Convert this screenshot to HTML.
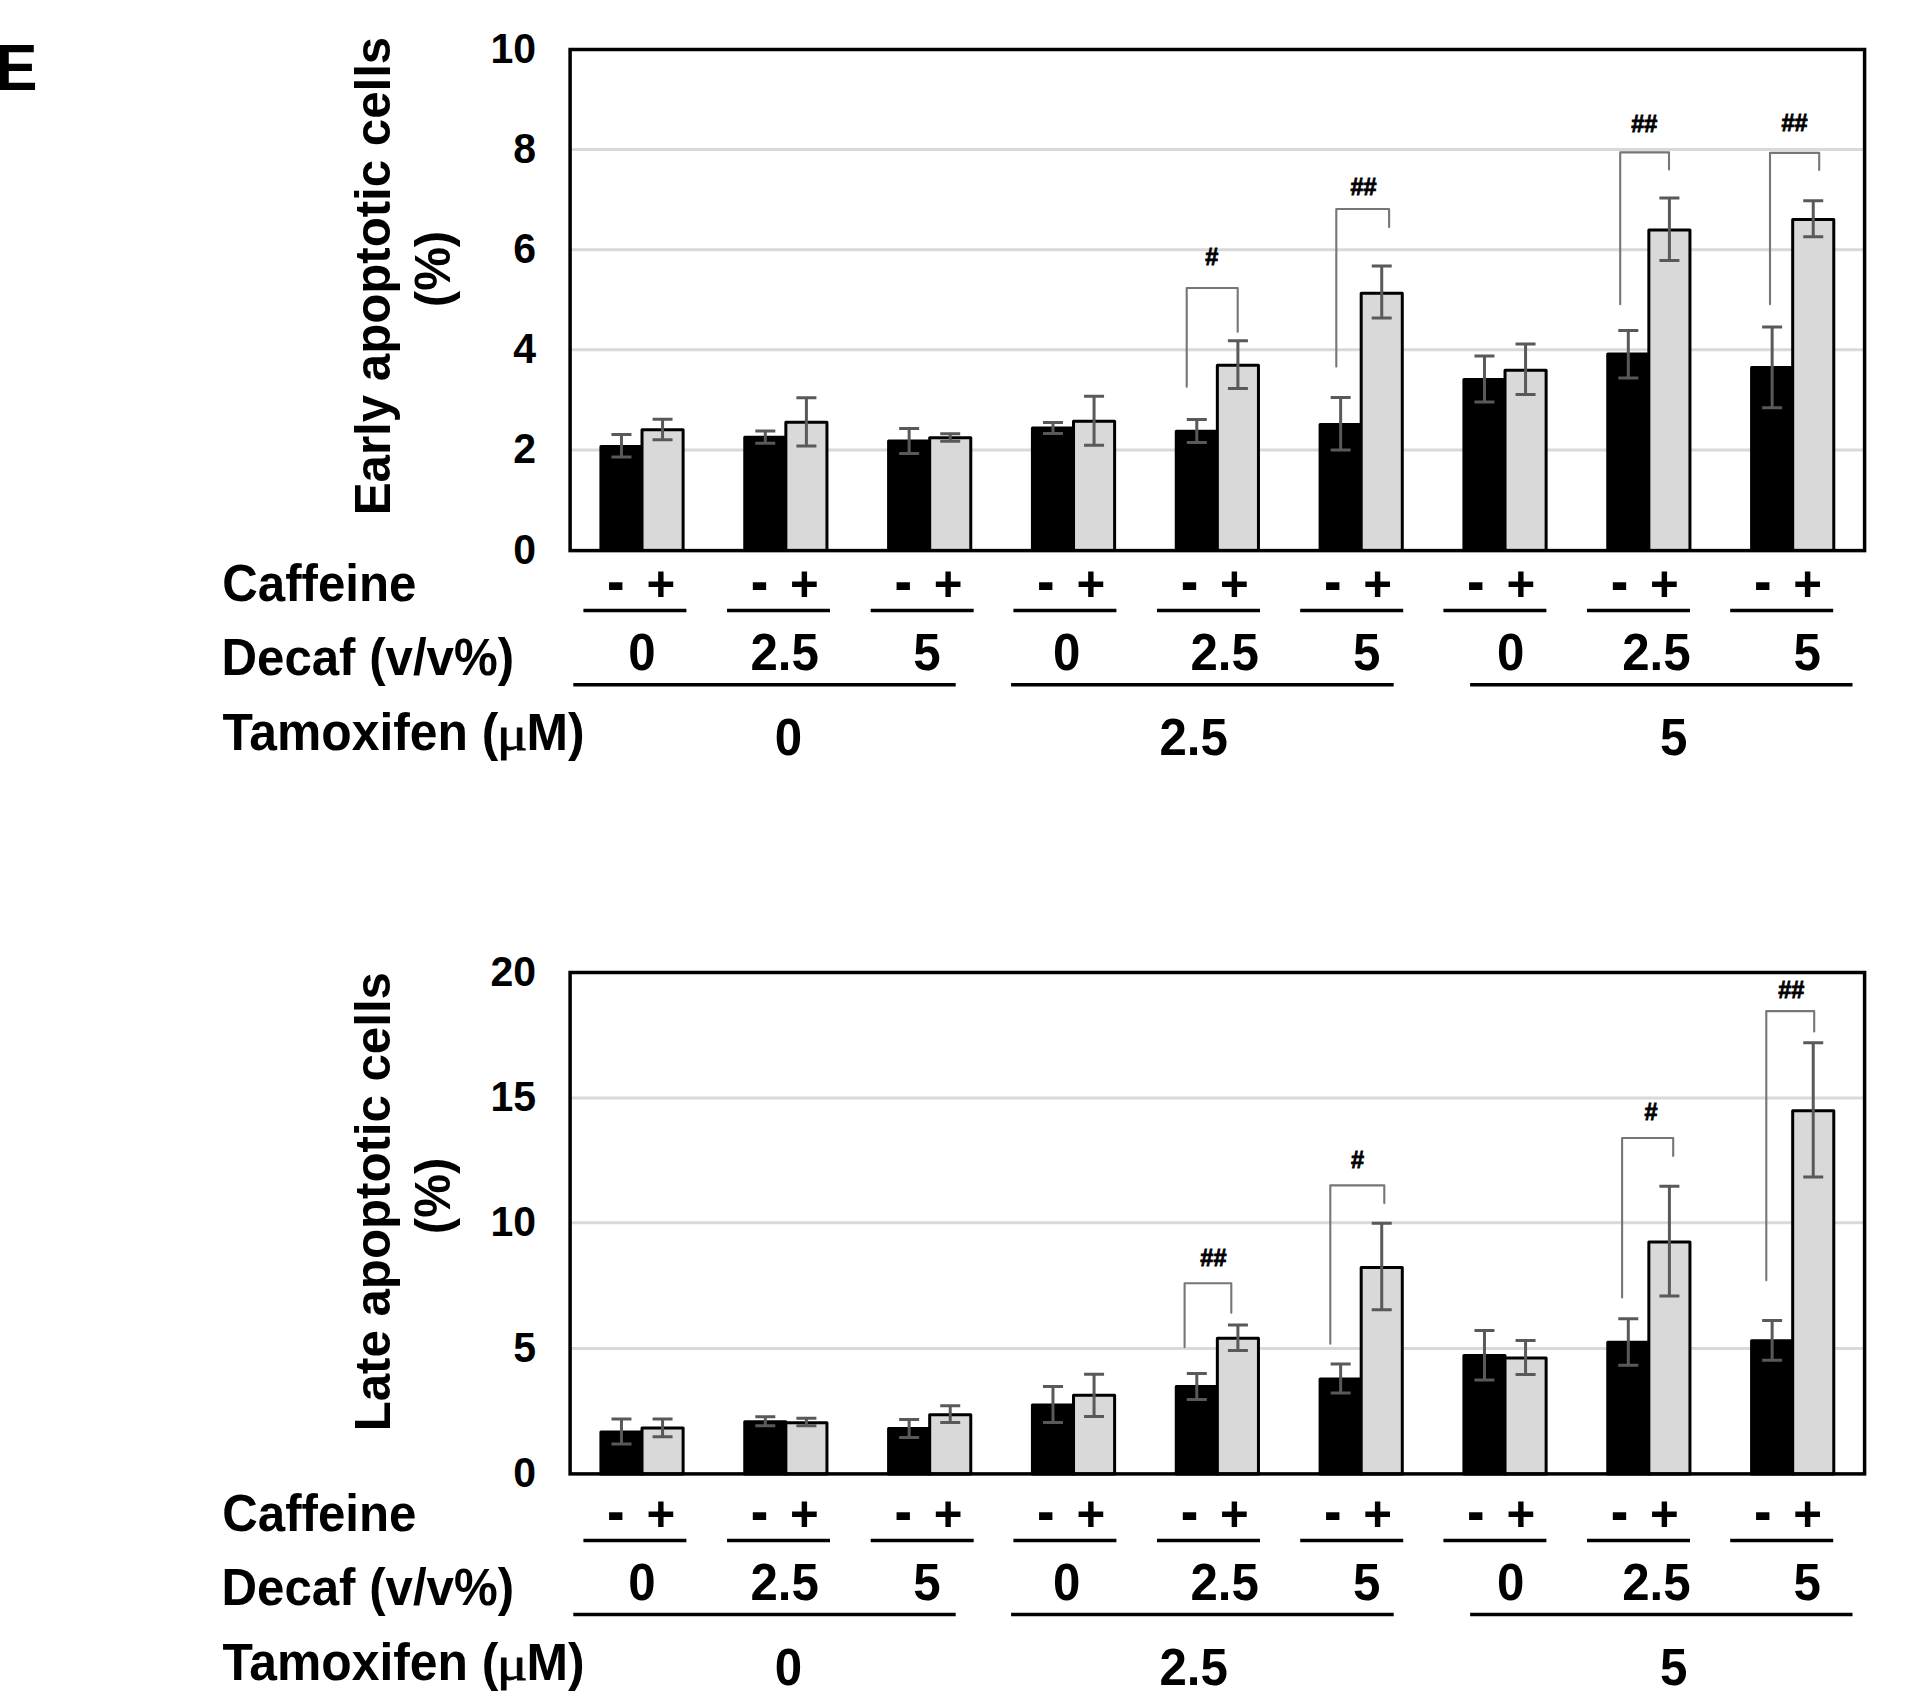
<!DOCTYPE html>
<html lang="en"><head><meta charset="utf-8"><title>Figure E</title>
<style>html,body{margin:0;padding:0;background:#fff}svg{display:block}</style></head>
<body>
<svg width="1915" height="1691" viewBox="0 0 1915 1691" font-family='"Liberation Sans", Arial, Helvetica, sans-serif' font-weight="bold" fill="#000">
<rect width="1915" height="1691" fill="#fff"/>
<text transform="translate(-4.60 90.00) scale(1 1.04)" font-size="63">E</text>
<line x1="570.1" y1="149.6" x2="1864.6" y2="149.6" stroke="#d9d9d9" stroke-width="3"/>
<line x1="570.1" y1="249.7" x2="1864.6" y2="249.7" stroke="#d9d9d9" stroke-width="3"/>
<line x1="570.1" y1="349.8" x2="1864.6" y2="349.8" stroke="#d9d9d9" stroke-width="3"/>
<line x1="570.1" y1="450" x2="1864.6" y2="450" stroke="#d9d9d9" stroke-width="3"/>
<rect x="600.92" y="446.4" width="41.10" height="104.20" fill="#000" stroke="#000" stroke-width="3" stroke-linejoin="round"/>
<rect x="642.02" y="429.8" width="41.10" height="120.80" fill="#d9d9d9" stroke="#000" stroke-width="3" stroke-linejoin="round"/>
<rect x="744.75" y="437.2" width="41.10" height="113.40" fill="#000" stroke="#000" stroke-width="3" stroke-linejoin="round"/>
<rect x="785.85" y="422.3" width="41.10" height="128.30" fill="#d9d9d9" stroke="#000" stroke-width="3" stroke-linejoin="round"/>
<rect x="888.59" y="441.1" width="41.10" height="109.50" fill="#000" stroke="#000" stroke-width="3" stroke-linejoin="round"/>
<rect x="929.68" y="437.7" width="41.10" height="112.90" fill="#d9d9d9" stroke="#000" stroke-width="3" stroke-linejoin="round"/>
<rect x="1032.42" y="428.1" width="41.10" height="122.50" fill="#000" stroke="#000" stroke-width="3" stroke-linejoin="round"/>
<rect x="1073.52" y="421.2" width="41.10" height="129.40" fill="#d9d9d9" stroke="#000" stroke-width="3" stroke-linejoin="round"/>
<rect x="1176.25" y="431.3" width="41.10" height="119.30" fill="#000" stroke="#000" stroke-width="3" stroke-linejoin="round"/>
<rect x="1217.35" y="365.3" width="41.10" height="185.30" fill="#d9d9d9" stroke="#000" stroke-width="3" stroke-linejoin="round"/>
<rect x="1320.09" y="424.4" width="41.10" height="126.20" fill="#000" stroke="#000" stroke-width="3" stroke-linejoin="round"/>
<rect x="1361.18" y="293.2" width="41.10" height="257.40" fill="#d9d9d9" stroke="#000" stroke-width="3" stroke-linejoin="round"/>
<rect x="1463.92" y="379.5" width="41.10" height="171.10" fill="#000" stroke="#000" stroke-width="3" stroke-linejoin="round"/>
<rect x="1505.02" y="370.2" width="41.10" height="180.40" fill="#d9d9d9" stroke="#000" stroke-width="3" stroke-linejoin="round"/>
<rect x="1607.75" y="354" width="41.10" height="196.60" fill="#000" stroke="#000" stroke-width="3" stroke-linejoin="round"/>
<rect x="1648.85" y="230" width="41.10" height="320.60" fill="#d9d9d9" stroke="#000" stroke-width="3" stroke-linejoin="round"/>
<rect x="1751.59" y="367.6" width="41.10" height="183.00" fill="#000" stroke="#000" stroke-width="3" stroke-linejoin="round"/>
<rect x="1792.68" y="219.5" width="41.10" height="331.10" fill="#d9d9d9" stroke="#000" stroke-width="3" stroke-linejoin="round"/>
<rect x="570.1" y="49.5" width="1294.50" height="501.10" fill="none" stroke="#000" stroke-width="3.5"/>
<path d="M611.47 434.50H631.47M621.47 434.50V457.10M611.47 457.10H631.47" stroke="#595959" stroke-width="3" fill="none"/>
<path d="M652.56 419.20H672.56M662.56 419.20V439.80M652.56 439.80H672.56" stroke="#595959" stroke-width="3" fill="none"/>
<path d="M755.30 431.10H775.30M765.30 431.10V443.30M755.30 443.30H775.30" stroke="#595959" stroke-width="3" fill="none"/>
<path d="M796.40 397.80H816.40M806.40 397.80V446.00M796.40 446.00H816.40" stroke="#595959" stroke-width="3" fill="none"/>
<path d="M899.14 428.40H919.14M909.14 428.40V453.40M899.14 453.40H919.14" stroke="#595959" stroke-width="3" fill="none"/>
<path d="M940.23 433.80H960.23M950.23 433.80V441.20M940.23 441.20H960.23" stroke="#595959" stroke-width="3" fill="none"/>
<path d="M1042.97 422.40H1062.97M1052.97 422.40V433.40M1042.97 433.40H1062.97" stroke="#595959" stroke-width="3" fill="none"/>
<path d="M1084.06 396.20H1104.06M1094.06 396.20V445.20M1084.06 445.20H1104.06" stroke="#595959" stroke-width="3" fill="none"/>
<path d="M1186.80 419.40H1206.80M1196.80 419.40V442.60M1186.80 442.60H1206.80" stroke="#595959" stroke-width="3" fill="none"/>
<path d="M1227.90 340.80H1247.90M1237.90 340.80V388.60M1227.90 388.60H1247.90" stroke="#595959" stroke-width="3" fill="none"/>
<path d="M1330.64 397.60H1350.64M1340.64 397.60V450.00M1330.64 450.00H1350.64" stroke="#595959" stroke-width="3" fill="none"/>
<path d="M1371.73 266.10H1391.73M1381.73 266.10V318.10M1371.73 318.10H1391.73" stroke="#595959" stroke-width="3" fill="none"/>
<path d="M1474.47 355.90H1494.47M1484.47 355.90V402.10M1474.47 402.10H1494.47" stroke="#595959" stroke-width="3" fill="none"/>
<path d="M1515.56 344.10H1535.56M1525.56 344.10V394.50M1515.56 394.50H1535.56" stroke="#595959" stroke-width="3" fill="none"/>
<path d="M1618.30 330.40H1638.30M1628.30 330.40V378.00M1618.30 378.00H1638.30" stroke="#595959" stroke-width="3" fill="none"/>
<path d="M1659.40 198.10H1679.40M1669.40 198.10V260.50M1659.40 260.50H1679.40" stroke="#595959" stroke-width="3" fill="none"/>
<path d="M1762.14 327.00H1782.14M1772.14 327.00V407.80M1762.14 407.80H1782.14" stroke="#595959" stroke-width="3" fill="none"/>
<path d="M1803.23 200.70H1823.23M1813.23 200.70V236.70M1803.23 236.70H1823.23" stroke="#595959" stroke-width="3" fill="none"/>
<path d="M1186.7 386.8V288H1237.7V331.7" stroke="#767676" stroke-width="2.1" stroke-linejoin="round" stroke-linecap="round" fill="none"/>
<text x="1211.8" y="265" font-size="23.5" text-anchor="middle" stroke="#000" stroke-width="0.8">#</text>
<path d="M1336.3 366.6V209H1389.1V227.1" stroke="#767676" stroke-width="2.1" stroke-linejoin="round" stroke-linecap="round" fill="none"/>
<text x="1363.6" y="195" font-size="23.5" text-anchor="middle" stroke="#000" stroke-width="0.8">##</text>
<path d="M1620.2 304.2V152.4H1669V169.4" stroke="#767676" stroke-width="2.1" stroke-linejoin="round" stroke-linecap="round" fill="none"/>
<text x="1644.2" y="132.3" font-size="23.5" text-anchor="middle" stroke="#000" stroke-width="0.8">##</text>
<path d="M1770 304.2V152.9H1819.2V170" stroke="#767676" stroke-width="2.1" stroke-linejoin="round" stroke-linecap="round" fill="none"/>
<text x="1794.5" y="130.7" font-size="23.5" text-anchor="middle" stroke="#000" stroke-width="0.8">##</text>
<text transform="translate(536.00 62.80) scale(1 1.04)" font-size="41" text-anchor="end">10</text>
<text transform="translate(536.00 162.90) scale(1 1.04)" font-size="41" text-anchor="end">8</text>
<text transform="translate(536.00 263.00) scale(1 1.04)" font-size="41" text-anchor="end">6</text>
<text transform="translate(536.00 363.10) scale(1 1.04)" font-size="41" text-anchor="end">4</text>
<text transform="translate(536.00 463.30) scale(1 1.04)" font-size="41" text-anchor="end">2</text>
<text transform="translate(536.00 563.70) scale(1 1.04)" font-size="41" text-anchor="end">0</text>
<text transform="translate(389.80 276.00) rotate(-90) scale(1 1.03)" font-size="49.2" text-anchor="middle">Early apoptotic cells</text>
<text transform="translate(449.60 269.00) rotate(-90) scale(1 1.03)" font-size="49.2" text-anchor="middle">(%)</text>
<text transform="translate(222.30 601.00) scale(1 1.04)" font-size="49.2">Caffeine</text>
<text transform="translate(221.50 674.50) scale(1 1.04)" font-size="49.2">Decaf (v/v%)</text>
<text transform="translate(222.60 750.00) scale(1 1.04)" font-size="49.8">Tamoxifen (</text>
<text transform="translate(496.8 750.00) scale(1.2 1.02)" font-family="'Liberation Serif', 'DejaVu Serif', serif" font-weight="normal" font-size="48" stroke="#000" stroke-width="0.8">μ</text>
<text transform="translate(526.50 750.00) scale(1 1.04)" font-size="49.8">M)</text>
<line x1="583.4" y1="610.6" x2="686.4" y2="610.6" stroke="#000" stroke-width="3.5"/>
<text transform="translate(607.10 602.60) scale(1.07 1.3)" font-size="49.2">-</text>
<text x="646.40" y="601.00" font-size="49.2">+</text>
<line x1="727" y1="610.6" x2="830" y2="610.6" stroke="#000" stroke-width="3.5"/>
<text transform="translate(750.70 602.60) scale(1.07 1.3)" font-size="49.2">-</text>
<text x="790.00" y="601.00" font-size="49.2">+</text>
<line x1="870.7" y1="610.6" x2="973.7" y2="610.6" stroke="#000" stroke-width="3.5"/>
<text transform="translate(894.40 602.60) scale(1.07 1.3)" font-size="49.2">-</text>
<text x="933.70" y="601.00" font-size="49.2">+</text>
<line x1="1013.4" y1="610.6" x2="1116.4" y2="610.6" stroke="#000" stroke-width="3.5"/>
<text transform="translate(1037.10 602.60) scale(1.07 1.3)" font-size="49.2">-</text>
<text x="1076.40" y="601.00" font-size="49.2">+</text>
<line x1="1157" y1="610.6" x2="1260" y2="610.6" stroke="#000" stroke-width="3.5"/>
<text transform="translate(1180.70 602.60) scale(1.07 1.3)" font-size="49.2">-</text>
<text x="1220.00" y="601.00" font-size="49.2">+</text>
<line x1="1300.2" y1="610.6" x2="1403.2" y2="610.6" stroke="#000" stroke-width="3.5"/>
<text transform="translate(1323.90 602.60) scale(1.07 1.3)" font-size="49.2">-</text>
<text x="1363.20" y="601.00" font-size="49.2">+</text>
<line x1="1443.4" y1="610.6" x2="1546.4" y2="610.6" stroke="#000" stroke-width="3.5"/>
<text transform="translate(1467.10 602.60) scale(1.07 1.3)" font-size="49.2">-</text>
<text x="1506.40" y="601.00" font-size="49.2">+</text>
<line x1="1587" y1="610.6" x2="1690" y2="610.6" stroke="#000" stroke-width="3.5"/>
<text transform="translate(1610.70 602.60) scale(1.07 1.3)" font-size="49.2">-</text>
<text x="1650.00" y="601.00" font-size="49.2">+</text>
<line x1="1730.2" y1="610.6" x2="1833.2" y2="610.6" stroke="#000" stroke-width="3.5"/>
<text transform="translate(1753.90 602.60) scale(1.07 1.3)" font-size="49.2">-</text>
<text x="1793.20" y="601.00" font-size="49.2">+</text>
<text transform="translate(641.90 670.00) scale(1 1.04)" font-size="49.2" text-anchor="middle">0</text>
<text transform="translate(784.60 670.00) scale(1 1.04)" font-size="49.2" text-anchor="middle">2.5</text>
<text transform="translate(927.00 670.00) scale(1 1.04)" font-size="49.2" text-anchor="middle">5</text>
<text transform="translate(1066.80 670.00) scale(1 1.04)" font-size="49.2" text-anchor="middle">0</text>
<text transform="translate(1224.70 670.00) scale(1 1.04)" font-size="49.2" text-anchor="middle">2.5</text>
<text transform="translate(1366.80 670.00) scale(1 1.04)" font-size="49.2" text-anchor="middle">5</text>
<text transform="translate(1510.60 670.00) scale(1 1.04)" font-size="49.2" text-anchor="middle">0</text>
<text transform="translate(1656.40 670.00) scale(1 1.04)" font-size="49.2" text-anchor="middle">2.5</text>
<text transform="translate(1807.20 670.00) scale(1 1.04)" font-size="49.2" text-anchor="middle">5</text>
<line x1="573.3" y1="684.7" x2="955.7" y2="684.7" stroke="#000" stroke-width="3.5"/>
<line x1="1011.1" y1="684.7" x2="1393.7" y2="684.7" stroke="#000" stroke-width="3.5"/>
<line x1="1470.1" y1="684.7" x2="1852.5" y2="684.7" stroke="#000" stroke-width="3.5"/>
<text transform="translate(788.40 755.00) scale(1 1.04)" font-size="49.2" text-anchor="middle">0</text>
<text transform="translate(1193.70 755.00) scale(1 1.04)" font-size="49.2" text-anchor="middle">2.5</text>
<text transform="translate(1673.60 755.00) scale(1 1.04)" font-size="49.2" text-anchor="middle">5</text>
<line x1="570.1" y1="1098" x2="1864.6" y2="1098" stroke="#d9d9d9" stroke-width="3"/>
<line x1="570.1" y1="1222.8" x2="1864.6" y2="1222.8" stroke="#d9d9d9" stroke-width="3"/>
<line x1="570.1" y1="1348.4" x2="1864.6" y2="1348.4" stroke="#d9d9d9" stroke-width="3"/>
<rect x="600.92" y="1432" width="41.10" height="41.90" fill="#000" stroke="#000" stroke-width="3" stroke-linejoin="round"/>
<rect x="642.02" y="1427.9" width="41.10" height="46.00" fill="#d9d9d9" stroke="#000" stroke-width="3" stroke-linejoin="round"/>
<rect x="744.75" y="1421.7" width="41.10" height="52.20" fill="#000" stroke="#000" stroke-width="3" stroke-linejoin="round"/>
<rect x="785.85" y="1422.8" width="41.10" height="51.10" fill="#d9d9d9" stroke="#000" stroke-width="3" stroke-linejoin="round"/>
<rect x="888.59" y="1428.6" width="41.10" height="45.30" fill="#000" stroke="#000" stroke-width="3" stroke-linejoin="round"/>
<rect x="929.68" y="1414.8" width="41.10" height="59.10" fill="#d9d9d9" stroke="#000" stroke-width="3" stroke-linejoin="round"/>
<rect x="1032.42" y="1404.9" width="41.10" height="69.00" fill="#000" stroke="#000" stroke-width="3" stroke-linejoin="round"/>
<rect x="1073.52" y="1395.3" width="41.10" height="78.60" fill="#d9d9d9" stroke="#000" stroke-width="3" stroke-linejoin="round"/>
<rect x="1176.25" y="1386.6" width="41.10" height="87.30" fill="#000" stroke="#000" stroke-width="3" stroke-linejoin="round"/>
<rect x="1217.35" y="1338.3" width="41.10" height="135.60" fill="#d9d9d9" stroke="#000" stroke-width="3" stroke-linejoin="round"/>
<rect x="1320.09" y="1379" width="41.10" height="94.90" fill="#000" stroke="#000" stroke-width="3" stroke-linejoin="round"/>
<rect x="1361.18" y="1267.5" width="41.10" height="206.40" fill="#d9d9d9" stroke="#000" stroke-width="3" stroke-linejoin="round"/>
<rect x="1463.92" y="1355.4" width="41.10" height="118.50" fill="#000" stroke="#000" stroke-width="3" stroke-linejoin="round"/>
<rect x="1505.02" y="1357.9" width="41.10" height="116.00" fill="#d9d9d9" stroke="#000" stroke-width="3" stroke-linejoin="round"/>
<rect x="1607.75" y="1342.3" width="41.10" height="131.60" fill="#000" stroke="#000" stroke-width="3" stroke-linejoin="round"/>
<rect x="1648.85" y="1242" width="41.10" height="231.90" fill="#d9d9d9" stroke="#000" stroke-width="3" stroke-linejoin="round"/>
<rect x="1751.59" y="1340.7" width="41.10" height="133.20" fill="#000" stroke="#000" stroke-width="3" stroke-linejoin="round"/>
<rect x="1792.68" y="1110.7" width="41.10" height="363.20" fill="#d9d9d9" stroke="#000" stroke-width="3" stroke-linejoin="round"/>
<rect x="570.1" y="972.5" width="1294.50" height="501.40" fill="none" stroke="#000" stroke-width="3.5"/>
<path d="M611.47 1419.00H631.47M621.47 1419.00V1444.00M611.47 1444.00H631.47" stroke="#595959" stroke-width="3" fill="none"/>
<path d="M652.56 1419.00H672.56M662.56 1419.00V1436.80M652.56 1436.80H672.56" stroke="#595959" stroke-width="3" fill="none"/>
<path d="M755.30 1416.70H775.30M765.30 1416.70V1425.70M755.30 1425.70H775.30" stroke="#595959" stroke-width="3" fill="none"/>
<path d="M796.40 1418.30H816.40M806.40 1418.30V1425.70M796.40 1425.70H816.40" stroke="#595959" stroke-width="3" fill="none"/>
<path d="M899.14 1419.50H919.14M909.14 1419.50V1437.50M899.14 1437.50H919.14" stroke="#595959" stroke-width="3" fill="none"/>
<path d="M940.23 1405.70H960.23M950.23 1405.70V1422.50M940.23 1422.50H960.23" stroke="#595959" stroke-width="3" fill="none"/>
<path d="M1042.97 1386.50H1062.97M1052.97 1386.50V1422.50M1042.97 1422.50H1062.97" stroke="#595959" stroke-width="3" fill="none"/>
<path d="M1084.06 1374.30H1104.06M1094.06 1374.30V1416.50M1084.06 1416.50H1104.06" stroke="#595959" stroke-width="3" fill="none"/>
<path d="M1186.80 1373.50H1206.80M1196.80 1373.50V1399.50M1186.80 1399.50H1206.80" stroke="#595959" stroke-width="3" fill="none"/>
<path d="M1227.90 1325.00H1247.90M1237.90 1325.00V1350.60M1227.90 1350.60H1247.90" stroke="#595959" stroke-width="3" fill="none"/>
<path d="M1330.64 1363.90H1350.64M1340.64 1363.90V1393.10M1330.64 1393.10H1350.64" stroke="#595959" stroke-width="3" fill="none"/>
<path d="M1371.73 1223.30H1391.73M1381.73 1223.30V1309.70M1371.73 1309.70H1391.73" stroke="#595959" stroke-width="3" fill="none"/>
<path d="M1474.47 1330.50H1494.47M1484.47 1330.50V1379.90M1474.47 1379.90H1494.47" stroke="#595959" stroke-width="3" fill="none"/>
<path d="M1515.56 1340.40H1535.56M1525.56 1340.40V1374.40M1515.56 1374.40H1535.56" stroke="#595959" stroke-width="3" fill="none"/>
<path d="M1618.30 1318.80H1638.30M1628.30 1318.80V1365.20M1618.30 1365.20H1638.30" stroke="#595959" stroke-width="3" fill="none"/>
<path d="M1659.40 1186.30H1679.40M1669.40 1186.30V1295.90M1659.40 1295.90H1679.40" stroke="#595959" stroke-width="3" fill="none"/>
<path d="M1762.14 1320.40H1782.14M1772.14 1320.40V1360.20M1762.14 1360.20H1782.14" stroke="#595959" stroke-width="3" fill="none"/>
<path d="M1803.23 1042.70H1823.23M1813.23 1042.70V1176.90M1803.23 1176.90H1823.23" stroke="#595959" stroke-width="3" fill="none"/>
<path d="M1184.6 1347.1V1283.3H1231.3V1312.7" stroke="#767676" stroke-width="2.1" stroke-linejoin="round" stroke-linecap="round" fill="none"/>
<text x="1213.4" y="1266" font-size="23.5" text-anchor="middle" stroke="#000" stroke-width="0.8">##</text>
<path d="M1330.3 1343.7V1185.4H1384.3V1203.1" stroke="#767676" stroke-width="2.1" stroke-linejoin="round" stroke-linecap="round" fill="none"/>
<text x="1357.6" y="1168.1" font-size="23.5" text-anchor="middle" stroke="#000" stroke-width="0.8">#</text>
<path d="M1622.1 1297.5V1138H1673.2V1155.9" stroke="#767676" stroke-width="2.1" stroke-linejoin="round" stroke-linecap="round" fill="none"/>
<text x="1651" y="1120.4" font-size="23.5" text-anchor="middle" stroke="#000" stroke-width="0.8">#</text>
<path d="M1766.3 1280.3V1011.1H1814.2V1031.5" stroke="#767676" stroke-width="2.1" stroke-linejoin="round" stroke-linecap="round" fill="none"/>
<text x="1791.2" y="998.2" font-size="23.5" text-anchor="middle" stroke="#000" stroke-width="0.8">##</text>
<text transform="translate(536.00 985.80) scale(1 1.04)" font-size="41" text-anchor="end">20</text>
<text transform="translate(536.00 1111.30) scale(1 1.04)" font-size="41" text-anchor="end">15</text>
<text transform="translate(536.00 1236.10) scale(1 1.04)" font-size="41" text-anchor="end">10</text>
<text transform="translate(536.00 1361.70) scale(1 1.04)" font-size="41" text-anchor="end">5</text>
<text transform="translate(536.00 1487.00) scale(1 1.04)" font-size="41" text-anchor="end">0</text>
<text transform="translate(389.80 1201.70) rotate(-90) scale(1 1.03)" font-size="49.2" text-anchor="middle">Late apoptotic cells</text>
<text transform="translate(449.60 1195.90) rotate(-90) scale(1 1.03)" font-size="49.2" text-anchor="middle">(%)</text>
<text transform="translate(222.30 1531.20) scale(1 1.04)" font-size="49.2">Caffeine</text>
<text transform="translate(221.50 1604.70) scale(1 1.04)" font-size="49.2">Decaf (v/v%)</text>
<text transform="translate(222.60 1680.20) scale(1 1.04)" font-size="49.8">Tamoxifen (</text>
<text transform="translate(496.8 1680.20) scale(1.2 1.02)" font-family="'Liberation Serif', 'DejaVu Serif', serif" font-weight="normal" font-size="48" stroke="#000" stroke-width="0.8">μ</text>
<text transform="translate(526.50 1680.20) scale(1 1.04)" font-size="49.8">M)</text>
<line x1="583.4" y1="1540.4" x2="686.4" y2="1540.4" stroke="#000" stroke-width="3.5"/>
<text transform="translate(607.10 1532.80) scale(1.07 1.3)" font-size="49.2">-</text>
<text x="646.40" y="1531.20" font-size="49.2">+</text>
<line x1="727" y1="1540.4" x2="830" y2="1540.4" stroke="#000" stroke-width="3.5"/>
<text transform="translate(750.70 1532.80) scale(1.07 1.3)" font-size="49.2">-</text>
<text x="790.00" y="1531.20" font-size="49.2">+</text>
<line x1="870.7" y1="1540.4" x2="973.7" y2="1540.4" stroke="#000" stroke-width="3.5"/>
<text transform="translate(894.40 1532.80) scale(1.07 1.3)" font-size="49.2">-</text>
<text x="933.70" y="1531.20" font-size="49.2">+</text>
<line x1="1013.4" y1="1540.4" x2="1116.4" y2="1540.4" stroke="#000" stroke-width="3.5"/>
<text transform="translate(1037.10 1532.80) scale(1.07 1.3)" font-size="49.2">-</text>
<text x="1076.40" y="1531.20" font-size="49.2">+</text>
<line x1="1157" y1="1540.4" x2="1260" y2="1540.4" stroke="#000" stroke-width="3.5"/>
<text transform="translate(1180.70 1532.80) scale(1.07 1.3)" font-size="49.2">-</text>
<text x="1220.00" y="1531.20" font-size="49.2">+</text>
<line x1="1300.2" y1="1540.4" x2="1403.2" y2="1540.4" stroke="#000" stroke-width="3.5"/>
<text transform="translate(1323.90 1532.80) scale(1.07 1.3)" font-size="49.2">-</text>
<text x="1363.20" y="1531.20" font-size="49.2">+</text>
<line x1="1443.4" y1="1540.4" x2="1546.4" y2="1540.4" stroke="#000" stroke-width="3.5"/>
<text transform="translate(1467.10 1532.80) scale(1.07 1.3)" font-size="49.2">-</text>
<text x="1506.40" y="1531.20" font-size="49.2">+</text>
<line x1="1587" y1="1540.4" x2="1690" y2="1540.4" stroke="#000" stroke-width="3.5"/>
<text transform="translate(1610.70 1532.80) scale(1.07 1.3)" font-size="49.2">-</text>
<text x="1650.00" y="1531.20" font-size="49.2">+</text>
<line x1="1730.2" y1="1540.4" x2="1833.2" y2="1540.4" stroke="#000" stroke-width="3.5"/>
<text transform="translate(1753.90 1532.80) scale(1.07 1.3)" font-size="49.2">-</text>
<text x="1793.20" y="1531.20" font-size="49.2">+</text>
<text transform="translate(641.90 1600.20) scale(1 1.04)" font-size="49.2" text-anchor="middle">0</text>
<text transform="translate(784.60 1600.20) scale(1 1.04)" font-size="49.2" text-anchor="middle">2.5</text>
<text transform="translate(927.00 1600.20) scale(1 1.04)" font-size="49.2" text-anchor="middle">5</text>
<text transform="translate(1066.80 1600.20) scale(1 1.04)" font-size="49.2" text-anchor="middle">0</text>
<text transform="translate(1224.70 1600.20) scale(1 1.04)" font-size="49.2" text-anchor="middle">2.5</text>
<text transform="translate(1366.80 1600.20) scale(1 1.04)" font-size="49.2" text-anchor="middle">5</text>
<text transform="translate(1510.60 1600.20) scale(1 1.04)" font-size="49.2" text-anchor="middle">0</text>
<text transform="translate(1656.40 1600.20) scale(1 1.04)" font-size="49.2" text-anchor="middle">2.5</text>
<text transform="translate(1807.20 1600.20) scale(1 1.04)" font-size="49.2" text-anchor="middle">5</text>
<line x1="573.3" y1="1614.5" x2="955.7" y2="1614.5" stroke="#000" stroke-width="3.5"/>
<line x1="1011.1" y1="1614.5" x2="1393.7" y2="1614.5" stroke="#000" stroke-width="3.5"/>
<line x1="1470.1" y1="1614.5" x2="1852.5" y2="1614.5" stroke="#000" stroke-width="3.5"/>
<text transform="translate(788.40 1685.20) scale(1 1.04)" font-size="49.2" text-anchor="middle">0</text>
<text transform="translate(1193.70 1685.20) scale(1 1.04)" font-size="49.2" text-anchor="middle">2.5</text>
<text transform="translate(1673.60 1685.20) scale(1 1.04)" font-size="49.2" text-anchor="middle">5</text>
</svg>
</body></html>
